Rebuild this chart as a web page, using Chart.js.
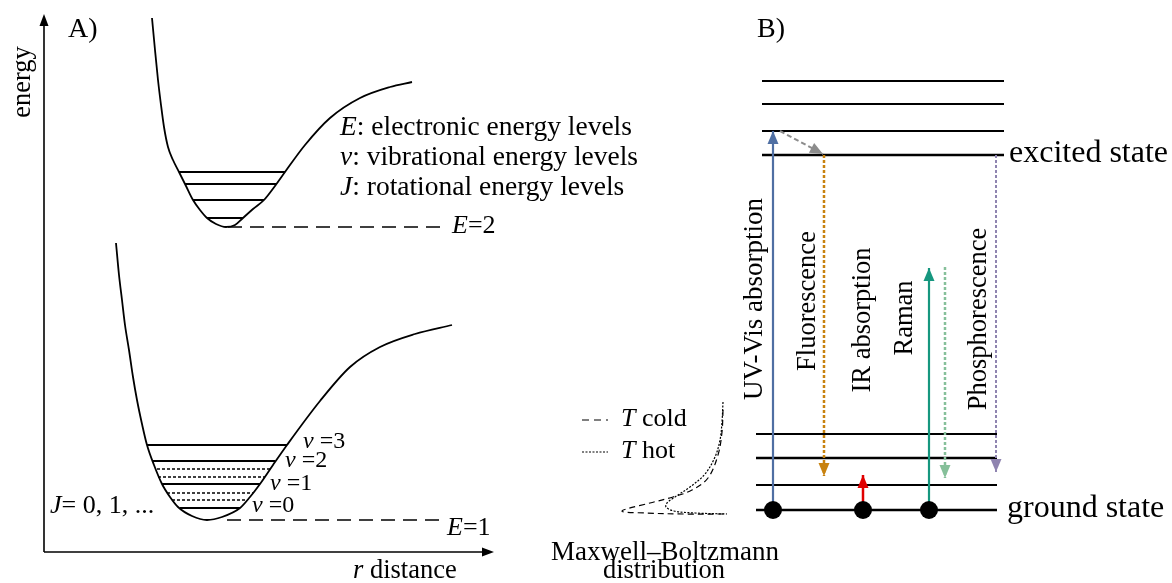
<!DOCTYPE html>
<html>
<head>
<meta charset="utf-8">
<script src="https://cdn.jsdelivr.net/npm/chart.js@4.4.1/dist/chart.umd.min.js"></script>
<style>
  html, body { margin: 0; padding: 0; background: #ffffff; }
  canvas { display: block; }
</style>
</head>
<body>
<canvas id="diagram" width="1172" height="583"></canvas>
<script>
// ---------- Panel A: potential-energy wells (r, energy) ----------
const upperWell = [[152,18],[155,50],[158,80],[161,105],[164,127],[168,147],[173,160],[179,172],[186,186],[193,200],[200,210],[207,218],[216,224],[226,227],[235,225],[243,218],[253,209],[264,200],[275,186],[285,172],[305,145],[330,118],[360,98],[390,87],[412,82]];
const lowerWell = [[116,243],[119,275],[122,300],[125,325],[129,350],[133,377],[137,400],[142,424],[147,445],[154,465],[162,484],[170,497],[178,507],[192,516],[207,520],[222,517],[240,508],[250,497],[260,484],[273,465],[287,445],[320,401],[350,367],[380,347],[415,334],[452,325]];

// vibrational levels: [energy, rLeft, rRight]
const upperVibLevels = [[172,179,285],[184,185,276],[200,193,264],[218,207,243]];
const lowerVibLevels = [[445,147,287],[461,153,275],[484,162,260],[508,180,240]];
const lowerRotLevels = [[469,157,270],[477,158,265],[493,167,253],[500,172,247]];

// electronic minima (dashed guides): [energy, rStart, rEnd]
const electronicMinima = [[227,228,445],[520,227,445]];

// Maxwell–Boltzmann populations (population, energy)
const mbCold = [[723,410],[722,432],[718,455],[708,478],[692,490],[673,497],[650,503],[622,511],[645,513],[685,514],[727,514]];
const mbHot  = [[723,402],[722,422],[720,440],[715,457],[705,474],[690,487],[675,497],[667,503],[666,507],[674,511],[695,513],[727,514]];

// ---------- Panel B: Jablonski-style levels ----------
const excitedLevels = [81,104,131,155];
const groundLevels  = [434,458,485,510];
const excitedSpan = [762,1004];
const groundSpan  = [756,997];
const groundPopulation = [773,863,929];

// transitions: from -> to
const transitions = [
  {name:'UV-Vis absorption',  from:[773,510], to:[773,131], color:'#4f6fa3', dash:[],    width:2.2},
  {name:'vibrational relaxation', from:[780,131], to:[823,154], color:'#8c8c8c', dash:[5,3], width:2},
  {name:'Fluorescence',       from:[824,155], to:[824,476], color:'#c8820f', dash:[3,2], width:2.5},
  {name:'IR absorption',      from:[863,510], to:[863,475], color:'#e00000', dash:[],    width:2.5},
  {name:'Raman',              from:[929,510], to:[929,268], color:'#16977f', dash:[],    width:2.2},
  {name:'Raman scattered',    from:[945,267], to:[945,478], color:'#86c09a', dash:[3,2], width:2.5},
  {name:'Phosphorescence',    from:[996,155], to:[996,472], color:'#8f84b0', dash:[3,2], width:2}
];

// axes of panel A
const axisOrigin = [44,552];
const axisEnergyTop = 14;
const axisDistanceEnd = 494;

const SERIF = '"Liberation Serif", "Times New Roman", serif';

// text annotations: runs of [text, italic]
const annotations = [
  {runs:[['A)',0]], at:[68,30], size:28},
  {runs:[['B)',0]], at:[757,30], size:28},
  {runs:[['energy',0]], at:[23,82], size:26.5, rotate:true, align:'center'},
  {runs:[['E',1],[': electronic energy levels',0]], at:[340,128], size:27.5},
  {runs:[['v',1],[': vibrational energy levels',0]], at:[340,158], size:27.5},
  {runs:[['J',1],[': rotational energy levels',0]], at:[340,188], size:27.5},
  {runs:[['E',1],['=2',0]], at:[452,226], size:26},
  {runs:[['E',1],['=1',0]], at:[447,528], size:26},
  {runs:[['v',1],[' =3',0]], at:[303,442], size:24},
  {runs:[['v',1],[' =2',0]], at:[285,461], size:24},
  {runs:[['v',1],[' =1',0]], at:[270,484], size:24},
  {runs:[['v',1],[' =0',0]], at:[252,506], size:24},
  {runs:[['J',1],['= 0, 1, ...',0]], at:[50,506], size:26},
  {runs:[['r',1],[' distance',0]], at:[353,571], size:26.5},
  {runs:[['T',1],[' cold',0]], at:[621,419], size:26},
  {runs:[['T',1],[' hot',0]], at:[621,451], size:26},
  {runs:[['Maxwell\u2013Boltzmann',0]], at:[665,553], size:27, align:'center'},
  {runs:[['distribution',0]], at:[664,571], size:26.5, align:'center'},
  {runs:[['excited state',0]], at:[1009,154], size:32},
  {runs:[['ground state',0]], at:[1007,509], size:32},
  {runs:[['UV-Vis absorption',0]], at:[755,299], size:27, rotate:true, align:'center'},
  {runs:[['Fluorescence',0]], at:[808,301], size:26.5, rotate:true, align:'center'},
  {runs:[['IR absorption',0]], at:[863,320], size:26.5, rotate:true, align:'center'},
  {runs:[['Raman',0]], at:[905,318], size:26.5, rotate:true, align:'center'},
  {runs:[['Phosphorescence',0]], at:[979,319], size:26.5, rotate:true, align:'center'}
];

// ---------- dataset builders ----------
const pts = arr => arr.map(([x, y]) => ({x, y}));
function line(data, opts = {}) {
  return Object.assign({
    data, showLine: true, pointRadius: 0, borderColor: '#000', borderWidth: 1.8,
    borderDash: [], fill: false, tension: 0, order: 2
  }, opts);
}

const datasets = [];
// potential wells
datasets.push(line(pts(upperWell), {cubicInterpolationMode: 'monotone', borderWidth: 1.8}));
datasets.push(line(pts(lowerWell), {cubicInterpolationMode: 'monotone', borderWidth: 1.8}));
upperVibLevels.concat(lowerVibLevels).forEach(([e, a, b]) =>
  datasets.push(line(pts([[a, e], [b, e]]), {borderWidth: 1.8})));
lowerRotLevels.forEach(([e, a, b]) =>
  datasets.push(line(pts([[a, e], [b, e]]), {borderWidth: 1.3, borderDash: [3, 2]})));
electronicMinima.forEach(([e, a, b]) =>
  datasets.push(line(pts([[a, e], [b, e]]), {borderWidth: 1.4, borderDash: [14, 8]})));
// axes of panel A
datasets.push(line(pts([axisOrigin, [axisOrigin[0], axisEnergyTop + 8]]), {borderWidth: 1.6}));
datasets.push(line(pts([axisOrigin, [axisDistanceEnd - 8, axisOrigin[1]]]), {borderWidth: 1.6}));
// Maxwell–Boltzmann
datasets.push(line(pts(mbCold), {tension: 0.35, borderWidth: 1.2, borderDash: [6, 4]}));
datasets.push(line(pts(mbHot), {tension: 0.35, borderWidth: 1.2, borderDash: [2, 1.5]}));
datasets.push(line(pts([[582, 420], [608, 420]]), {borderWidth: 1.2, borderDash: [7, 5]}));
datasets.push(line(pts([[582, 452], [608, 452]]), {borderWidth: 1.2, borderDash: [2, 1.5]}));
// panel B levels
excitedLevels.forEach(e =>
  datasets.push(line(pts([[excitedSpan[0], e], [excitedSpan[1], e]]), {borderWidth: e === 155 ? 2.4 : 2})));
groundLevels.forEach(e =>
  datasets.push(line(pts([[groundSpan[0], e], [groundSpan[1], e]]), {borderWidth: (e === 458 || e === 510) ? 2.6 : 2})));
// transition shafts
transitions.forEach(t =>
  datasets.push(line(pts([t.from, t.to]), {borderColor: t.color, borderWidth: t.width, borderDash: t.dash, order: 1})));
// ground-state population
datasets.push({
  data: groundPopulation.map(x => ({x, y: groundLevels[3]})),
  showLine: false, pointRadius: 9, pointBackgroundColor: '#000', pointBorderColor: '#000',
  pointBorderWidth: 0, order: 0
});

// ---------- plugins ----------
function headAt(ctx, tip, from, color, len, half) {
  const ang = Math.atan2(tip[1] - from[1], tip[0] - from[0]);
  ctx.save();
  ctx.translate(tip[0], tip[1]);
  ctx.rotate(ang);
  ctx.beginPath();
  ctx.moveTo(0, 0);
  ctx.lineTo(-len, -half);
  ctx.lineTo(-len, half);
  ctx.closePath();
  ctx.fillStyle = color;
  ctx.fill();
  ctx.restore();
}

const arrowHeads = {
  id: 'arrowHeads',
  afterDatasetsDraw(chart) {
    const {ctx, scales: {x, y}} = chart;
    const P = p => [x.getPixelForValue(p[0]), y.getPixelForValue(p[1])];
    transitions.forEach(t => headAt(ctx, P(t.to), P(t.from), t.color, 13, 5.5));
    headAt(ctx, P([axisOrigin[0], axisEnergyTop]), P(axisOrigin), '#000', 12, 4.5);
    headAt(ctx, P([axisDistanceEnd, axisOrigin[1]]), P(axisOrigin), '#000', 12, 4.5);
  }
};

const textLayer = {
  id: 'textLayer',
  afterDraw(chart) {
    const {ctx, scales: {x, y}} = chart;
    annotations.forEach(a => {
      const px = x.getPixelForValue(a.at[0]);
      const py = y.getPixelForValue(a.at[1]);
      const fontOf = it => (it ? 'italic ' : '') + a.size + 'px ' + SERIF;
      ctx.save();
      let total = 0;
      a.runs.forEach(([s, it]) => { ctx.font = fontOf(it); total += ctx.measureText(s).width; });
      ctx.translate(px, py);
      if (a.rotate) ctx.rotate(-Math.PI / 2);
      let cx = a.align === 'center' ? -total / 2 : 0;
      ctx.fillStyle = '#000';
      ctx.textBaseline = 'middle';
      ctx.textAlign = 'left';
      a.runs.forEach(([s, it]) => {
        ctx.font = fontOf(it);
        ctx.fillText(s, cx, 0);
        cx += ctx.measureText(s).width;
      });
      ctx.restore();
    });
  }
};

new Chart(document.getElementById('diagram'), {
  type: 'scatter',
  data: { datasets },
  options: {
    responsive: false,
    animation: false,
    devicePixelRatio: 1,
    layout: { padding: 0, autoPadding: false },
    events: [],
    scales: {
      x: { type: 'linear', min: 0, max: 1172, display: false },
      y: { type: 'linear', min: 0, max: 583, reverse: true, display: false }
    },
    plugins: { legend: { display: false }, tooltip: { enabled: false } }
  },
  plugins: [arrowHeads, textLayer]
});
</script>
</body>
</html>
